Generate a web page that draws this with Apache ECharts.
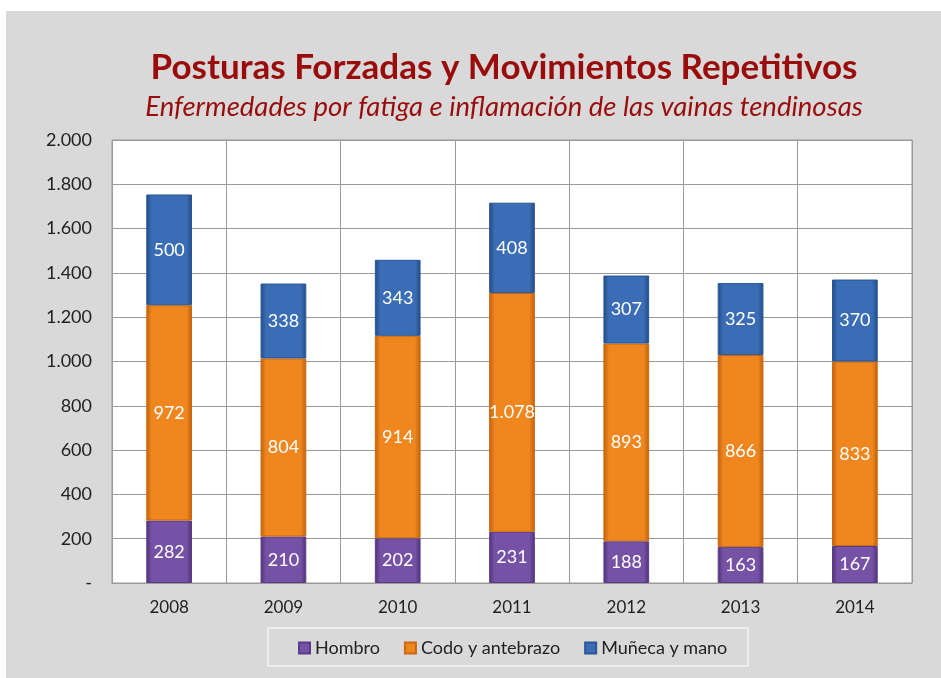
<!DOCTYPE html>
<html>
<head>
<meta charset="utf-8">
<script src="https://cdn.jsdelivr.net/npm/echarts@6/dist/echarts.min.js"></script>
<style>
  html, body { margin: 0; padding: 0; background: #fff; }
  #main { width: 941px; height: 678px; }
</style>
</head>
<body>
<div id="main"></div>
<script>
(function(){
    var years = ['2008', '2009', '2010', '2011', '2012', '2013', '2014'];
    var hombro = [282, 210, 202, 231, 188, 163, 167];
    var codo = [972, 804, 914, 1078, 893, 866, 833];
    var muneca = [500, 338, 343, 408, 307, 325, 370];
    var seriesNames = ['Hombro', 'Codo y antebrazo', 'Muñeca y mano'];

    var font = 'Lato';

    // numero con punto de miles
    function fmt(v) {
      if (v === 0) return '-';
      return String(v).replace(/\B(?=(\d{3})+(?!\d))/g, '.');
    }

    function bevel(edge, mid) {
      return new echarts.graphic.LinearGradient(0, 0, 1, 0, [
        { offset: 0, color: edge },
        { offset: 0.12, color: mid },
        { offset: 0.88, color: mid },
        { offset: 1, color: edge }
      ]);
    }

    function serie(name, data, edge, mid, border) {
      return {
        name: name,
        type: 'bar',
        stack: 'total',
        barWidth: '40%',
        data: data,
        itemStyle: {
          color: bevel(edge, mid),
          borderColor: border,
          borderWidth: 1
        },
        label: {
          show: true,
          position: 'inside',
          color: '#fff',
          fontFamily: font,
          fontSize: 18,
          formatter: function (p) { return fmt(p.value); }
        }
      };
    }

    var myChart = echarts.init(document.getElementById('main'));
    myChart.setOption({
      backgroundColor: '#fff',
      animation: false,
      graphic: [
        {
          type: 'rect',
          z: -10,
          shape: { x: 6, y: 11, width: 935, height: 667 },
          style: { fill: '#d9d9d9' }
        },
        {
          type: 'rect',
          z: -5,
          shape: { x: 268, y: 628, width: 480, height: 38 },
          style: { fill: '#d9d9d9', stroke: '#f2f2f2', lineWidth: 1.5 }
        }
      ],
      title: {
        text: 'Posturas Forzadas y Movimientos Repetitivos',
        subtext: 'Enfermedades por fatiga e inflamación de las vainas tendinosas',
        left: 499,
        textAlign: 'center',
        top: 45,
        itemGap: 9,
        textStyle: { fontFamily: font, fontSize: 35, fontWeight: 'bold', color: '#9a0b0b' },
        subtextStyle: { fontFamily: font, fontSize: 27.5, fontStyle: 'italic', color: '#9a0b0b' }
      },
      legend: {
        top: 634,
        left: 293,
        itemWidth: 11,
        itemHeight: 11,
        itemGap: 24,
        icon: 'rect',
        data: seriesNames,
        textStyle: { fontFamily: font, fontSize: 18, color: '#222' }
      },
      grid: {
        left: 112,
        right: 29,
        top: 140,
        bottom: 95,
        show: true,
        backgroundColor: '#fff',
        borderColor: '#9a9a9a',
        borderWidth: 1
      },
      xAxis: {
        type: 'category',
        data: years,
        axisLine: { lineStyle: { color: '#9a9a9a' } },
        axisTick: { show: false },
        axisLabel: { fontFamily: font, fontSize: 17, color: '#222', margin: 16 },
        splitLine: { show: true, lineStyle: { color: '#9a9a9a' } }
      },
      yAxis: {
        type: 'value',
        min: 0,
        max: 2000,
        interval: 200,
        axisLine: { show: false },
        axisTick: { show: false },
        axisLabel: { fontFamily: font, fontSize: 18, color: '#222', margin: 20, formatter: fmt },
        splitLine: { lineStyle: { color: '#9a9a9a' } }
      },
      series: [
        serie(seriesNames[0], hombro, '#4e3276', '#7652a6', '#5a3c86'),
        serie(seriesNames[1], codo, '#c0600c', '#ef861e', '#c8680f'),
        serie(seriesNames[2], muneca, '#224b85', '#3a6db5', '#2a5592')
      ]
    });
})();
</script>
</body>
</html>
